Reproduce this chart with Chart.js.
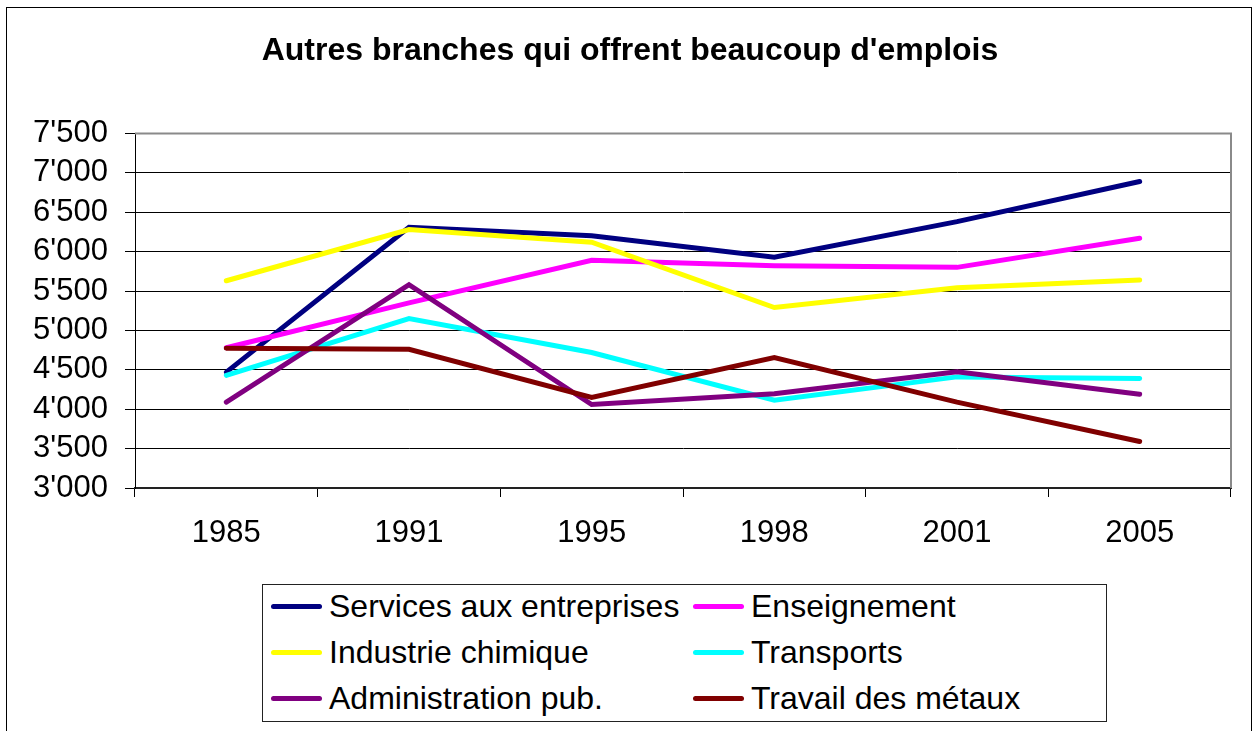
<!DOCTYPE html>
<html>
<head>
<meta charset="utf-8">
<script src="https://cdn.jsdelivr.net/npm/chart.js@4/dist/chart.umd.min.js"></script>
<style>
  html, body { margin: 0; padding: 0; background: #fff; }
  #wrap { position: relative; width: 1253px; height: 731px; overflow: hidden; }
  #legend { position: absolute; left: 262px; top: 584px; width: 845px; height: 138px;
    border: 1px solid #222; box-sizing: border-box; background: #fff; }
  .item { position: absolute; height: 40px; display: flex; align-items: center;
    font-family: 'Liberation Sans', Arial, sans-serif; font-size: 32px; color: #000; white-space: nowrap; }
  .sw { width: 51px; height: 5px; border-radius: 3px; margin-right: 7px; }
</style>
</head>
<body>
<div id="wrap">
  <canvas id="c" width="1253" height="731"></canvas>
  <div id="legend"></div>
</div>
<script>
const categories = ['1985', '1991', '1995', '1998', '2001', '2005'];
const seriesNames = ['Services aux entreprises', 'Enseignement', 'Industrie chimique', 'Transports', 'Administration pub.', 'Travail des métaux'];
const services = [4470, 6310, 6200, 5930, 6380, 6890];
const enseignement = [4780, 5350, 5890, 5820, 5800, 6170];
const industrie = [5630, 6280, 6120, 5290, 5540, 5640];
const transports = [4430, 5150, 4720, 4115, 4410, 4390];
const administration = [4090, 5580, 4060, 4195, 4475, 4190];
const metaux = [4775, 4760, 4150, 4655, 4090, 3590];
const yTicks = [3000, 3500, 4000, 4500, 5000, 5500, 6000, 6500, 7000, 7500];
const colors = ['#000080', '#FF00FF', '#FFFF00', '#00FFFF', '#800080', '#800000'];

const seriesValues = [services, enseignement, industrie, transports, administration, metaux];
const FONT = "'Liberation Sans', Arial, sans-serif";

function fmt(v) { return String(v).replace(/\B(?=(\d{3})+(?!\d))/g, "'"); }

const datasets = seriesValues.map((vals, i) => ({
  label: seriesNames[i],
  data: vals,
  borderColor: colors[i],
  backgroundColor: colors[i],
  borderWidth: 5,
  borderCapStyle: 'round',
  borderJoinStyle: 'miter',
  pointRadius: 0,
  pointHoverRadius: 0,
  tension: 0,
  fill: false,
  order: seriesValues.length - i
}));

const framePlugin = {
  id: 'frame',
  beforeDraw(chart) {
    const ctx = chart.ctx;
    ctx.save();
    ctx.fillStyle = '#fff';
    ctx.fillRect(0, 0, chart.width, chart.height);
    ctx.strokeStyle = '#000';
    ctx.lineWidth = 1;
    ctx.strokeRect(6.5, 7.5, 1245, 800);
    ctx.restore();
  },
  beforeDatasetsDraw(chart) {
    const a = chart.chartArea, ctx = chart.ctx;
    ctx.save();
    ctx.strokeStyle = '#8a8a8a';
    ctx.lineWidth = 2;
    ctx.beginPath();
    ctx.moveTo(a.left, a.top);
    ctx.lineTo(a.right, a.top);
    ctx.lineTo(a.right, a.bottom);
    ctx.stroke();
    ctx.restore();
  }
};

const chart = new Chart(document.getElementById('c'), {
  type: 'line',
  data: { labels: categories, datasets },
  plugins: [framePlugin],
  options: {
    responsive: false,
    animation: false,
    devicePixelRatio: 1,
    layout: { padding: { left: 29, right: 22, top: 0, bottom: 173 } },
    plugins: {
      legend: { display: false },
      tooltip: { enabled: false },
      title: {
        display: true,
        text: "Autres branches qui offrent beaucoup d'emplois",
        color: '#000',
        font: { family: FONT, size: 32, weight: 'bold' },
        padding: { top: 32, bottom: 63 }
      }
    },
    scales: {
      x: {
        type: 'category',
        offset: true,
        grid: { display: true, drawOnChartArea: false, offset: true, color: '#000', tickLength: 9, lineWidth: 1 },
        border: { display: true, color: '#222', width: 2 },
        ticks: { color: '#000', font: { family: FONT, size: 31 }, padding: 18, maxRotation: 0, autoSkip: false },
        afterFit(s) { s.height = 70; }
      },
      y: {
        min: 3000,
        max: 7500,
        afterBuildTicks(s) { s.ticks = yTicks.map(v => ({ value: v })); },
        grid: { color: '#000', lineWidth: 1, tickLength: 10 },
        border: { display: true, color: '#000', width: 1 },
        ticks: { color: '#000', font: { family: FONT, size: 31 }, padding: 17, autoSkip: false, callback: v => fmt(v) },
        afterFit(s) { s.width = 106; }
      }
    }
  }
});

// HTML legend built from the chart's datasets (2 columns x 3 rows)
const legend = document.getElementById('legend');
chart.data.datasets.forEach((ds, i) => {
  const row = Math.floor(i / 2), col = i % 2;
  const it = document.createElement('div');
  it.className = 'item';
  it.style.left = (271 - 263 + col * 422) + 'px';
  it.style.top = (606 - 585 - 20 + row * 46) + 'px';
  const sw = document.createElement('div');
  sw.className = 'sw';
  sw.style.background = ds.borderColor;
  const tx = document.createElement('span');
  tx.textContent = ds.label;
  it.appendChild(sw);
  it.appendChild(tx);
  legend.appendChild(it);
});
</script>
</body>
</html>
